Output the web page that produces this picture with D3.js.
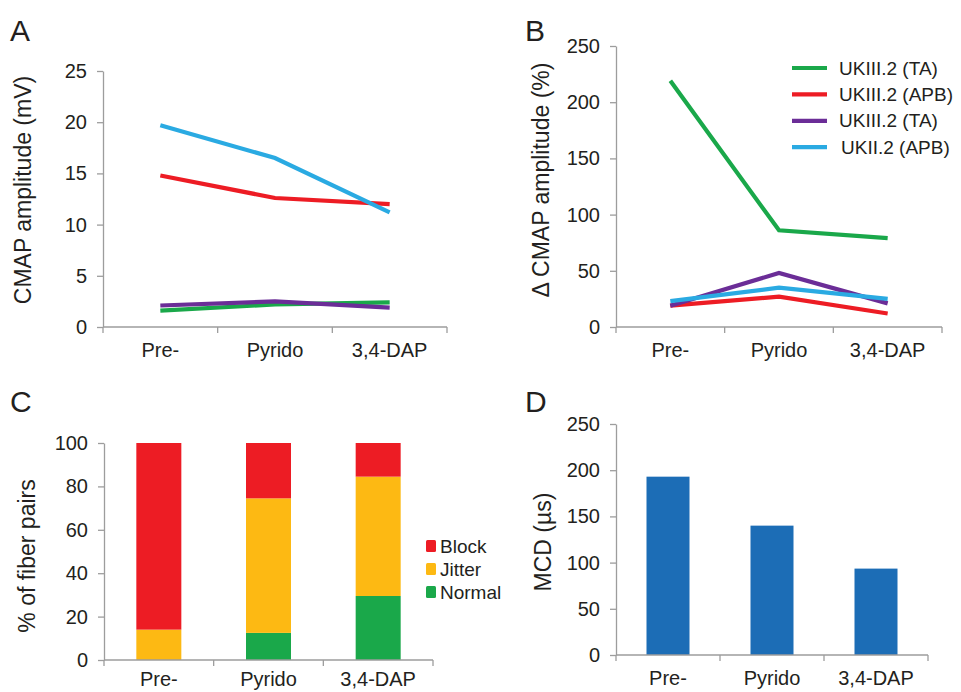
<!DOCTYPE html>
<html>
<head>
<meta charset="utf-8">
<script src="https://cdn.jsdelivr.net/npm/d3@7"></script>
<style>
  body { margin: 0; background: #fff; }
  svg text { font-family: "Liberation Sans", Arial, sans-serif; fill: #231f20; }
  .axis path, .axis line { stroke: #9d9d9d; stroke-width: 1.3; }
</style>
</head>
<body>
<svg width="961" height="692"></svg>
<script>
// categories shared by all panels
const stages = ["Pre-", "Pyrido", "3,4-DAP"];

// panel A: CMAP amplitude (mV)
const cmapNames = ["UKIII.2 (TA)", "UKIII.2 (APB)", "UKIII.2 (TA)", "UKII.2 (APB)"];
const cmapColors = ["#1aa84a", "#ed1c24", "#6b2d97", "#2aaae2"];
const cmapGreen = [1.6, 2.2, 2.4];
const cmapRed = [14.8, 12.6, 12.0];
const cmapPurple = [2.1, 2.5, 1.9];
const cmapBlue = [19.7, 16.5, 11.2];

// panel B: delta CMAP amplitude (%)
const deltaGreen = [219, 86, 79];
const deltaRed = [19, 27, 12];
const deltaPurple = [19, 48, 21];
const deltaBlue = [23, 35, 25];

// panel C: % of fiber pairs
const fiberKeys = ["Normal", "Jitter", "Block"];
const fiberColors = { Normal: "#1aa84a", Jitter: "#fdb913", Block: "#ed1c24" };
const fiberNormal = [0, 12.5, 29.5];
const fiberJitter = [14, 62, 55];
const fiberBlock = [86, 25.5, 15.5];

// panel D: MCD (µs)
const mcd = [193, 140, 93.5];

const svg = d3.select("svg");
const tickFont = 20;
const legFont = 19;

function panelLetter(txt, x, y) {
  svg.append("text").attr("x", x).attr("y", y)
    .attr("font-size", 30).text(txt);
}

function axes(g, x, y, ticks, x0, x1, y0, labOff) {
  const gx = g.append("g").attr("class", "axis").attr("transform", `translate(0,${y0})`);
  // ticks sit between categories
  const bounds = d3.range(stages.length + 1).map(i => x.range()[0] + i * x.step());
  gx.append("line").attr("x1", x.range()[0]).attr("x2", x.range()[1]).attr("y1", 0).attr("y2", 0);
  gx.selectAll(".sep").data(bounds).join("line")
    .attr("x1", d => d).attr("x2", d => d).attr("y1", 0).attr("y2", 6);
  gx.selectAll(".lab").data(stages).join("text")
    .attr("x", d => x(d) + x.bandwidth() / 2).attr("y", labOff || 30)
    .attr("text-anchor", "middle").attr("font-size", tickFont)
    .style("fill", "#231f20").text(d => d);

  const gy = g.append("g").attr("class", "axis")
    .attr("transform", `translate(${x0},0)`)
    .call(d3.axisLeft(y).tickValues(ticks).tickSize(6).tickSizeOuter(0).tickPadding(10));
  gy.selectAll("text").attr("font-size", tickFont).style("fill", "#231f20")
    .attr("font-family", "Liberation Sans, Arial, sans-serif");
}

function yTitle(txt, cx, cy) {
  svg.append("text").attr("transform", `translate(${cx},${cy}) rotate(-90)`)
    .attr("text-anchor", "middle").attr("dominant-baseline", "central")
    .attr("font-size", 23).text(txt);
}

function linePanel(x0, x1, yTop, yBot, max, ticks, seriesList) {
  const x = d3.scaleBand().domain(stages).range([x0, x1]);
  const y = d3.scaleLinear().domain([0, max]).range([yBot, yTop]);
  const g = svg.append("g");
  axes(g, x, y, ticks, x0, x1, yBot);
  const line = d3.line().x((d, i) => x(stages[i]) + x.bandwidth() / 2).y(d => y(d));
  seriesList.forEach(s => {
    g.append("path").datum(s.values).attr("d", line)
      .attr("fill", "none").attr("stroke", s.color).attr("stroke-width", 4.2);
  });
}

// Panel A
panelLetter("A", 10, 41);
yTitle("CMAP amplitude (mV)", 23, 190);
linePanel(103, 447, 71, 327, 25, [0, 5, 10, 15, 20, 25], [
  { values: cmapGreen, color: cmapColors[0] },
  { values: cmapRed, color: cmapColors[1] },
  { values: cmapPurple, color: cmapColors[2] },
  { values: cmapBlue, color: cmapColors[3] }
]);

// Panel B
panelLetter("B", 525, 41);
yTitle("\u0394 CMAP amplitude (%)", 541, 180);
linePanel(616, 942, 46, 327, 250, [0, 50, 100, 150, 200, 250], [
  { values: deltaGreen, color: cmapColors[0] },
  { values: deltaRed, color: cmapColors[1] },
  { values: deltaPurple, color: cmapColors[2] },
  { values: deltaBlue, color: cmapColors[3] }
]);
const legB = svg.append("g");
cmapNames.forEach((n, i) => {
  const yy = 68 + i * 26.4;
  legB.append("line").attr("x1", 792).attr("x2", 827).attr("y1", yy).attr("y2", yy)
    .attr("stroke", cmapColors[i]).attr("stroke-width", 4.2);
  legB.append("text").attr("x", i === 3 ? 841 : 839).attr("y", yy)
    .attr("dominant-baseline", "central").attr("font-size", legFont).text(n);
});

// Panel C
panelLetter("C", 10, 412);
yTitle("% of fiber pairs", 27, 556);
{
  const x0 = 104, x1 = 433, yTop = 443, yBot = 660;
  const x = d3.scaleBand().domain(stages).range([x0, x1]);
  const y = d3.scaleLinear().domain([0, 100]).range([yBot, yTop]);
  const g = svg.append("g");
  const rows = stages.map((s, i) => ({ stage: s, Normal: fiberNormal[i], Jitter: fiberJitter[i], Block: fiberBlock[i] }));
  const stack = d3.stack().keys(fiberKeys)(rows);
  const bw = 45;
  g.selectAll(".layer").data(stack).join("g").attr("fill", d => fiberColors[d.key])
    .selectAll("rect").data(d => d).join("rect")
    .attr("x", d => x(d.data.stage) + x.bandwidth() / 2 - bw / 2)
    .attr("width", bw)
    .attr("y", d => y(d[1])).attr("height", d => y(d[0]) - y(d[1]));
  axes(g, x, y, [0, 20, 40, 60, 80, 100], x0, x1, yBot, 26);
  const legKeys = ["Block", "Jitter", "Normal"];
  legKeys.forEach((k, i) => {
    const yy = 546 + i * 23;
    g.append("rect").attr("x", 426).attr("y", yy - 6).attr("width", 10).attr("height", 12)
      .attr("rx", 1.5).attr("fill", fiberColors[k]);
    g.append("text").attr("x", 440).attr("y", yy).attr("dominant-baseline", "central")
      .attr("font-size", legFont).text(k);
  });
}

// Panel D
panelLetter("D", 525, 412);
yTitle("MCD (\u00b5s)", 543, 542);
{
  const x0 = 616, x1 = 928, yTop = 424, yBot = 655;
  const x = d3.scaleBand().domain(stages).range([x0, x1]);
  const y = d3.scaleLinear().domain([0, 250]).range([yBot, yTop]);
  const g = svg.append("g");
  const bw = 43;
  g.selectAll("rect").data(mcd).join("rect")
    .attr("x", (d, i) => x(stages[i]) + x.bandwidth() / 2 - bw / 2)
    .attr("width", bw).attr("y", d => y(d)).attr("height", d => yBot - y(d))
    .attr("fill", "#1c6db6");
  axes(g, x, y, [0, 50, 100, 150, 200, 250], x0, x1, yBot);
}
</script>
</body>
</html>
